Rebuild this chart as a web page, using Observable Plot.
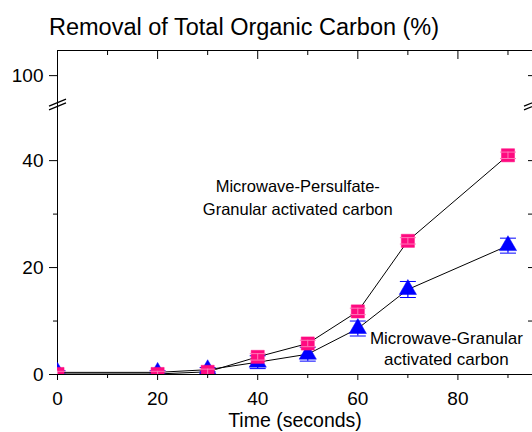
<!DOCTYPE html>
<html><head><meta charset="utf-8">
<script src="https://cdn.jsdelivr.net/npm/d3@7"></script>
<script src="https://cdn.jsdelivr.net/npm/@observablehq/plot@0.6"></script>
<style>
body{margin:0;background:#fff;font-family:"Liberation Sans",Arial,sans-serif;}
#title{height:46px;position:relative;width:532px;}
#title span{position:absolute;left:49px;top:16px;font-size:23.5px;line-height:23.5px;white-space:nowrap;color:#000;}
#chart svg{display:block;}
</style></head><body>
<div id="title"><span>Removal of Total Organic Carbon (%)</span></div>
<div id="chart"></div>
<script>
// ---- data ----
const time = [0, 20, 30, 40, 50, 60, 70, 90];
const mpgac = [0.1, 0.1, 0.5, 3.3, 5.8, 11.8, 25.0, 41.0];   // Microwave-Persulfate-GAC
const mpgacErr = [0.5, 0.5, 0.5, 0.6, 0.6, 0.6, 0.6, 0.6];
const mgac = [0.4, 0.4, 0.9, 2.3, 3.8, 8.6, 15.9, 24.1];     // Microwave-GAC
const mgacErr = [0.3, 0.3, 0.4, 1.2, 1.3, 1.4, 1.5, 1.4];
const seriesLabels = ["Microwave-Persulfate-\nGranular activated carbon", "Microwave-Granular\nactivated carbon"];
const labelX = [48.0, 77.7];
const labelY = [33.4, 4.95];
const xTicksMajor = [0, 20, 40, 60, 80];
const xTicksMinor = [10, 30, 50, 70, 90];
const yTicksMajor = [0, 20, 40, 100];
const yTicksMinor = [10, 30];
const yTicksRight = [10, 20, 30, 40, 100];
const xLabel = "Time (seconds)";
const xMax = 94.9;
const yTopRaw = 104.7;
const breakLow = 50.5, breakHigh = 94.6;

// broken-axis mapping
const f = v => v <= breakLow ? v : v - (breakHigh - breakLow);
const yLabelMap = new Map(yTicksMajor.map(v => [f(v), String(v)]));

const pink = "#ff0a80", pinkLight = "#ff7ab8", blue = "#0000ff";
const rowsP = time.map((t, i) => ({t, v: f(mpgac[i]), lo: f(mpgac[i] - mpgacErr[i]), hi: f(mpgac[i] + mpgacErr[i])}));
const rowsB = time.map((t, i) => ({t, v: f(mgac[i]), lo: f(mgac[i] - mgacErr[i]), hi: f(mgac[i] + mgacErr[i])}));
const caps = (rows) => rows.flatMap(d => [{t: d.t, y: d.lo}, {t: d.t, y: d.hi}]);

const capSymbol = {draw(ctx) { ctx.moveTo(-8, 0); ctx.lineTo(8, 0); }};
const breakSymbol = {draw(ctx) {
  ctx.moveTo(-8.5, 1.6); ctx.lineTo(8.5, -5.4);
  ctx.moveTo(-8.5, 5.4); ctx.lineTo(8.5, -1.6);
}};

const chart = Plot.plot({
  width: 532, height: 386,
  marginTop: 4, marginLeft: 57, marginRight: 0, marginBottom: 58,
  style: {fontFamily: "'Liberation Sans', Arial, sans-serif", fontSize: "19px", color: "#000", background: "#fff"},
  x: {domain: [0, xMax], axis: null},
  y: {domain: [0, f(yTopRaw)], axis: null},
  marks: [
    Plot.frame({stroke: "#000", strokeWidth: 1}),
    // left axis
    Plot.axisY(yTicksMajor.map(f), {anchor: "left", tickSize: 8, tickPadding: 6, fontSize: 19, tickFormat: d => yLabelMap.get(d)}),
    Plot.axisY(yTicksMinor.map(f), {anchor: "left", tickSize: 4, tickFormat: () => ""}),
    // right axis (inward ticks)
    Plot.axisY(yTicksRight.map(f), {anchor: "right", tickSize: -5, tickFormat: () => ""}),
    // bottom axis
    Plot.axisX(xTicksMajor, {anchor: "bottom", tickSize: 6, tickPadding: 11, fontSize: 19, tickFormat: d => String(d)}),
    Plot.axisX(xTicksMinor, {anchor: "bottom", tickSize: 4, tickFormat: () => ""}),
    // top axis (inward ticks)
    Plot.axisX(xTicksMajor, {anchor: "top", tickSize: -8, tickFormat: () => ""}),
    Plot.axisX(xTicksMinor, {anchor: "top", tickSize: -4, tickFormat: () => ""}),
    // axis break marks
    Plot.dot([{x: 0, y: breakLow}, {x: xMax, y: breakLow}], {x: "x", y: "y", symbol: breakSymbol, r: 5, stroke: "#000", strokeWidth: 1.2, fill: "none"}),
    // x label
    Plot.text([xLabel], {frameAnchor: "bottom", dy: 46, fontSize: 19.5, lineAnchor: "middle"}),
    // connecting lines
    Plot.line(rowsB, {x: "t", y: "v", stroke: "#000", strokeWidth: 1}),
    Plot.line(rowsP, {x: "t", y: "v", stroke: "#000", strokeWidth: 1}),
    // blue series
    Plot.ruleX(rowsB, {x: "t", y1: "lo", y2: "hi", stroke: blue, strokeWidth: 1.2, clip: true}),
    Plot.dot(caps(rowsB), {x: "t", y: "y", symbol: capSymbol, stroke: blue, strokeWidth: 1, clip: true}),
    Plot.dot(rowsB, {x: "t", y: "v", symbol: "triangle", r: 6.4, fill: blue, stroke: blue, strokeWidth: 0.5, clip: true}),
    // pink series
    Plot.dot(rowsP, {x: "t", y: "v", symbol: "square", r: 7.4, fill: pink, stroke: pink, strokeWidth: 0.5, clip: true}),
    Plot.ruleX(rowsP, {x: "t", y1: "lo", y2: "hi", stroke: pinkLight, strokeWidth: 1, clip: true}),
    Plot.dot(caps(rowsP), {x: "t", y: "y", symbol: capSymbol, stroke: pinkLight, strokeWidth: 1, clip: true}),
    // series annotations
    Plot.text([0], {x: () => labelX[0], y: () => labelY[0], text: () => seriesLabels[0], fontSize: 16.5, lineHeight: 1.39, lineAnchor: "middle", textAnchor: "middle"}),
    Plot.text([1], {x: () => labelX[1], y: () => labelY[1], text: () => seriesLabels[1], fontSize: 17, lineHeight: 1.24, lineAnchor: "middle", textAnchor: "middle"})
  ]
});
document.getElementById("chart").appendChild(chart);
</script>
</body></html>
